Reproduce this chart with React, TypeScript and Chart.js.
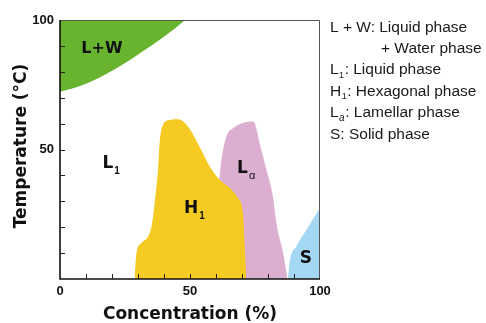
import React, { useEffect, useRef } from 'react';
import { Chart, registerables } from 'chart.js';

Chart.register(...registerables);

// L + W region (upper boundary curve, filled to top)
const lwConc = [0, 8.8, 21.7, 34.5, 40.9, 47.3, 48];
const lwTemp = [72.3, 74.9, 81.4, 89.7, 94.2, 99.3, 100];
// H1 hexagonal phase
const h1Conc = [28.7, 29.4, 31.3, 35.2, 36.4, 37.7, 38.3, 39.6, 42.2, 45.4, 49.2, 53.7, 57.6, 61.4, 65.3, 68.5, 70.4, 71.0, 71.7];
const h1Temp = [0, 10, 13.9, 20.3, 29.3, 42.2, 52.4, 59.5, 61.4, 61.7, 58.9, 51.1, 43.4, 38.3, 35.1, 31.2, 25.5, 13.9, 0];
// L alpha lamellar phase
const laConc = [61.2, 62.1, 64, 66.5, 70.4, 74.2, 74.9, 76.8, 79.4, 81.9, 83.2, 85.8, 87.5];
const laTemp = [37.5, 46, 55, 58.2, 60.2, 60.8, 60.2, 52.4, 42.2, 31.9, 21.6, 10, 0];
// S solid phase
const sConc = [87.7, 88.3, 90.9, 94.8, 100];
const sTemp = [0, 6.2, 12.6, 19, 27.4];

// axis
const xTickLabels = [0, 50, 100];
const yTickLabels = [50, 100];
const minorTicks = [10, 20, 30, 40, 50, 60, 70, 80, 90];
const xTitle = 'Concentration (%)';
const yTitle = 'Temperature (°C)';

// in-plot phase labels (main text, subscript, anchor concentration, anchor temperature)
const labelMain = ['L+W', 'L', 'H', 'L', 'S'];
const labelSub = ['', '1', '1', 'α', ''];
const labelConc = [8.2, 16.3, 47.7, 68.1, 92.2];
const labelTemp = [87.4, 43.0, 25.5, 40.9, 6.2];

// legend lines: [main, sub, rest]
const legendMain = ['L + W: Liquid phase', '+ Water phase', 'L', 'H', 'L', 'S: Solid phase'];
const legendSub = ['', '', '1', '1', 'a', ''];
const legendRest = ['', '', ': Liquid phase', ': Hexagonal phase', ': Lamellar phase', ''];

const FAM = '"Liberation Sans", Arial, Helvetica, sans-serif';
const BOLDFAM = '"DejaVu Sans", "Liberation Sans", Arial, sans-serif';

const toPts = (xs: number[], ys: number[]) => xs.map((x, i) => ({ x, y: ys[i] }));

const decorPlugin = {
  id: 'decor',
  afterDatasetsDraw(chart: any) {
    const { ctx, chartArea: a, scales } = chart;
    const xs = scales.x;
    const ys = scales.y;
    ctx.save();
    // border
    ctx.strokeStyle = '#555';
    ctx.lineWidth = 1;
    ctx.beginPath();
    ctx.moveTo(a.left, a.top + 0.5);
    ctx.lineTo(a.right - 0.5, a.top + 0.5);
    ctx.lineTo(a.right - 0.5, a.bottom);
    ctx.stroke();
    ctx.strokeStyle = '#111';
    ctx.lineWidth = 1.6;
    ctx.beginPath();
    ctx.moveTo(a.left, a.top);
    ctx.lineTo(a.left, a.bottom);
    ctx.lineTo(a.right, a.bottom);
    ctx.stroke();
    // inner ticks
    ctx.lineWidth = 1;
    ctx.strokeStyle = '#222';
    ctx.beginPath();
    minorTicks.forEach((v) => {
      const px = Math.round(xs.getPixelForValue(v)) + 0.5;
      ctx.moveTo(px, a.bottom);
      ctx.lineTo(px, a.bottom - 5);
      const py = Math.round(ys.getPixelForValue(v)) + 0.5;
      ctx.moveTo(a.left, py);
      ctx.lineTo(a.left + 5, py);
    });
    ctx.stroke();

    ctx.fillStyle = '#111';
    ctx.textBaseline = 'alphabetic';
    // phase labels
    labelMain.forEach((t, i) => {
      const px = xs.getPixelForValue(labelConc[i]);
      const py = ys.getPixelForValue(labelTemp[i]);
      ctx.font = `bold ${t.length > 1 ? 16 : 17}px ${BOLDFAM}`;
      ctx.textAlign = 'left';
      ctx.fillText(t, px, py);
      const w = ctx.measureText(t).width;
      if (labelSub[i]) {
        const isAlpha = labelSub[i] === 'α';
        ctx.font = isAlpha ? `11px ${FAM}` : `bold 10px ${FAM}`;
        ctx.fillText(labelSub[i], px + w + 1, py + 6);
      }
    });

    // axis titles
    ctx.font = `bold 17px ${BOLDFAM}`;
    ctx.textAlign = 'center';
    ctx.textBaseline = 'middle';
    ctx.fillText(xTitle, (a.left + a.right) / 2, 315);
    ctx.save();
    ctx.translate(22, 146);
    ctx.rotate(-Math.PI / 2);
    ctx.fillText(yTitle, 0, 0);
    ctx.restore();

    // legend text
    ctx.textAlign = 'left';
    ctx.textBaseline = 'alphabetic';
    ctx.fillStyle = '#1a1a1a';
    legendMain.forEach((t, i) => {
      let x = i === 1 ? 381 : 330;
      const y = 31.5 + i * 21.4;
      ctx.font = `15.5px ${FAM}`;
      ctx.fillText(t, x, y);
      x += ctx.measureText(t).width;
      if (legendSub[i]) {
        ctx.font = i === 4 ? `italic 10px ${FAM}` : `9px ${FAM}`;
        ctx.fillText(legendSub[i], x + 0.5, y + 3.5);
        x += ctx.measureText(legendSub[i]).width + 1;
        ctx.font = `15.5px ${FAM}`;
        ctx.fillText(legendRest[i], x, y);
      }
    });
    ctx.restore();
  },
};

export default function App() {
  const ref = useRef<HTMLCanvasElement>(null);
  useEffect(() => {
    if (!ref.current) return;
    const area = (label: string, xs: number[], ys: number[], color: string, fill: string, order: number) => ({
      label,
      data: toPts(xs, ys),
      backgroundColor: color,
      borderColor: color,
      borderWidth: 0,
      pointRadius: 0,
      fill,
      order,
      cubicInterpolationMode: 'monotone' as const,
    });
    const chart = new Chart(ref.current, {
      type: 'line',
      data: {
        datasets: [
          area('L+W', lwConc, lwTemp, '#69b42e', 'end', 3),
          area('La', laConc, laTemp, '#dcaed0', 'origin', 2),
          area('S', sConc, sTemp, '#a3d7f3', 'origin', 1),
          area('H1', h1Conc, h1Temp, '#f5ca22', 'origin', 0),
        ],
      },
      options: {
        responsive: false,
        animation: false,
        devicePixelRatio: 1,
        layout: { padding: { top: 20, right: 166, left: 0, bottom: 0 } },
        plugins: { legend: { display: false }, tooltip: { enabled: false } },
        scales: {
          x: {
            type: 'linear',
            min: 0,
            max: 100,
            afterFit: (s: any) => { s.height = 44; },
            grid: { display: false, drawTicks: false },
            border: { display: false },
            ticks: {
              stepSize: 50,
              autoSkip: false,
              maxRotation: 0,
              padding: 5,
              color: '#111',
              font: { family: FAM, size: 13, weight: 'bold' },
              callback: (v: any) => (xTickLabels.includes(v) ? String(v) : ''),
            },
          },
          y: {
            type: 'linear',
            min: 0,
            max: 100,
            afterFit: (s: any) => { s.width = 60; },
            grid: { display: false, drawTicks: false },
            border: { display: false },
            ticks: {
              stepSize: 50,
              autoSkip: false,
              padding: 6,
              color: '#111',
              font: { family: FAM, size: 13, weight: 'bold' },
              callback: (v: any) => (yTickLabels.includes(v) ? String(v) : ''),
            },
          },
        },
      } as any,
      plugins: [decorPlugin],
    });
    return () => chart.destroy();
  }, []);
  return (
    <canvas
      ref={ref}
      width={486}
      height={323}
      style={{ position: 'fixed', left: 0, top: 0, width: 486, height: 323, background: '#fff' }}
    />
  );
}
